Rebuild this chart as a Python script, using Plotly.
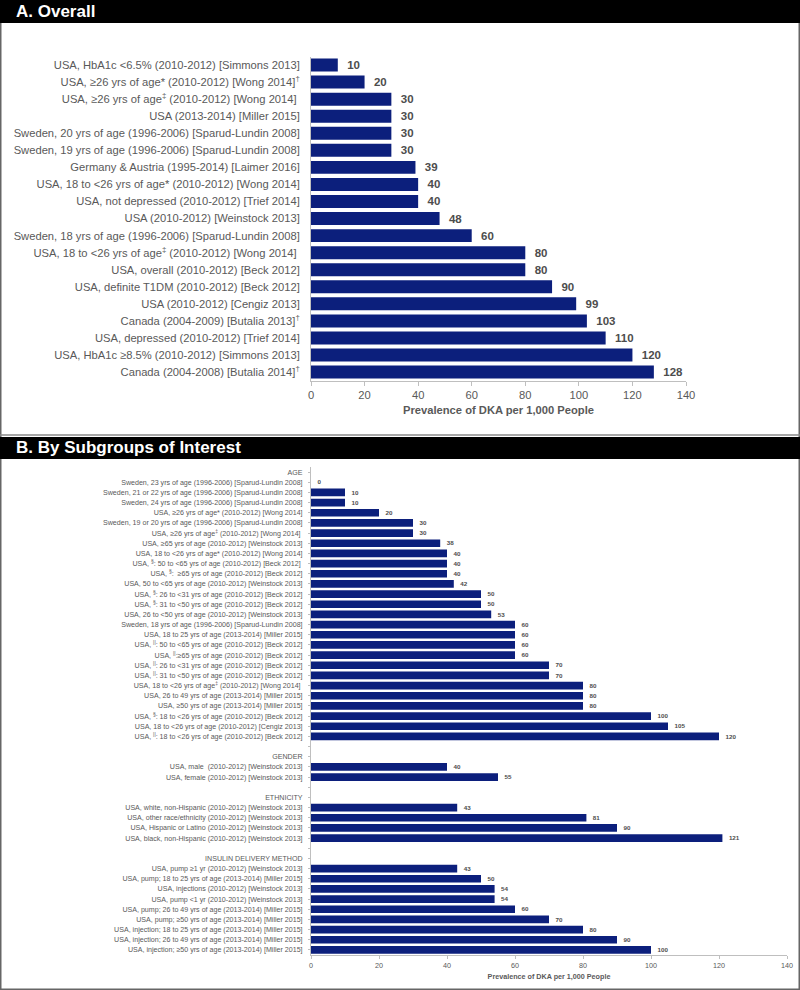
import plotly.graph_objects as go

# ---------------- Panel A data ----------------
a_labels = [
    "USA, HbA1c <6.5% (2010-2012) [Simmons 2013]",
    "USA, ≥26 yrs of age* (2010-2012) [Wong 2014]<sup>†</sup>",
    "USA, ≥26 yrs of age<sup>‡</sup> (2010-2012) [Wong 2014] ",
    "USA (2013-2014) [Miller 2015]",
    "Sweden, 20 yrs of age (1996-2006) [Sparud-Lundin 2008]",
    "Sweden, 19 yrs of age (1996-2006) [Sparud-Lundin 2008]",
    "Germany & Austria (1995-2014) [Laimer 2016]",
    "USA, 18 to <26 yrs of age* (2010-2012) [Wong 2014]",
    "USA, not depressed (2010-2012) [Trief 2014]",
    "USA (2010-2012) [Weinstock 2013]",
    "Sweden, 18 yrs of age (1996-2006) [Sparud-Lundin 2008]",
    "USA, 18 to <26 yrs of age<sup>‡</sup> (2010-2012) [Wong 2014] ",
    "USA, overall (2010-2012) [Beck 2012]",
    "USA, definite T1DM (2010-2012) [Beck 2012]",
    "USA (2010-2012) [Cengiz 2013]",
    "Canada (2004-2009) [Butalia 2013]<sup>†</sup>",
    "USA, depressed (2010-2012) [Trief 2014]",
    "USA, HbA1c ≥8.5% (2010-2012) [Simmons 2013]",
    "Canada (2004-2008) [Butalia 2014]<sup>†</sup>",
]
a_values = [10, 20, 30, 30, 30, 30, 39, 40, 40, 48, 60, 80, 80, 90, 99, 103, 110, 120, 128]

# ---------------- Panel B data ----------------
b_labels = [
    "AGE",
    "Sweden, 23 yrs of age (1996-2006) [Sparud-Lundin 2008]",
    "Sweden, 21 or 22 yrs of age (1996-2006) [Sparud-Lundin 2008]",
    "Sweden, 24 yrs of age (1996-2006) [Sparud-Lundin 2008]",
    "USA, ≥26 yrs of age* (2010-2012) [Wong 2014]",
    "Sweden, 19 or 20 yrs of age (1996-2006) [Sparud-Lundin 2008]",
    "USA, ≥26 yrs of age<sup>‡</sup> (2010-2012) [Wong 2014] ",
    "USA, ≥65 yrs of age (2010-2012) [Weinstock 2013]",
    "USA, 18 to <26 yrs of age* (2010-2012) [Wong 2014]",
    "USA, <sup>§</sup>: 50 to <65 yrs of age (2010-2012) [Beck 2012] ",
    "USA, <sup>§</sup>:  ≥65 yrs of age (2010-2012) [Beck 2012]",
    "USA, 50 to <65 yrs of age (2010-2012) [Weinstock 2013]",
    "USA, <sup>§</sup>: 26 to <31 yrs of age (2010-2012) [Beck 2012]",
    "USA, <sup>§</sup>: 31 to <50 yrs of age (2010-2012) [Beck 2012]",
    "USA, 26 to <50 yrs of age (2010-2012) [Weinstock 2013]",
    "Sweden, 18 yrs of age (1996-2006) [Sparud-Lundin 2008]",
    "USA, 18 to 25 yrs of age (2013-2014) [Miller 2015]",
    "USA, <sup>||</sup>: 50 to <65 yrs of age (2010-2012) [Beck 2012]",
    "USA, <sup>||</sup>:≥65 yrs of age (2010-2012) [Beck 2012]",
    "USA, <sup>||</sup>: 26 to <31 yrs of age (2010-2012) [Beck 2012]",
    "USA, <sup>||</sup>: 31 to <50 yrs of age (2010-2012) [Beck 2012]",
    "USA, 18 to <26 yrs of age<sup>‡</sup> (2010-2012) [Wong 2014] ",
    "USA, 26 to 49 yrs of age (2013-2014) [Miller 2015]",
    "USA, ≥50 yrs of age (2013-2014) [Miller 2015]",
    "USA, <sup>§</sup>: 18 to <26 yrs of age (2010-2012) [Beck 2012]",
    "USA, 18 to <26 yrs of age (2010-2012) [Cengiz 2013]",
    "USA, <sup>||</sup>: 18 to <26 yrs of age (2010-2012) [Beck 2012]",
    "",
    "GENDER",
    "USA, male  (2010-2012) [Weinstock 2013]",
    "USA, female (2010-2012) [Weinstock 2013]",
    "",
    "ETHNICITY",
    "USA, white, non-Hispanic (2010-2012) [Weinstock 2013]",
    "USA, other race/ethnicity (2010-2012) [Weinstock 2013]",
    "USA, Hispanic or Latino (2010-2012) [Weinstock 2013]",
    "USA, black, non-Hispanic (2010-2012) [Weinstock 2013]",
    "",
    "INSULIN DELIVERY METHOD",
    "USA, pump ≥1 yr (2010-2012) [Weinstock 2013]",
    "USA, pump; 18 to 25 yrs of age (2013-2014) [Miller 2015]",
    "USA, injections (2010-2012) [Weinstock 2013]",
    "USA, pump <1 yr (2010-2012) [Weinstock 2013]",
    "USA, pump; 26 to 49 yrs of age (2013-2014) [Miller 2015]",
    "USA, pump; ≥50 yrs of age (2013-2014) [Miller 2015]",
    "USA, injection; 18 to 25 yrs of age (2013-2014) [Miller 2015]",
    "USA, injection; 26 to 49 yrs of age (2013-2014) [Miller 2015]",
    "USA, injection; ≥50 yrs of age (2013-2014) [Miller 2015]",
]
b_values = [
    None, 0, 10, 10, 20, 30, 30, 38, 40, 40, 40, 42, 50, 50, 53, 60, 60, 60, 60,
    70, 70, 80, 80, 80, 100, 105, 120,
    None, None, 40, 55,
    None, None, 43, 81, 90, 121,
    None, None, 43, 50, 54, 54, 60, 70, 80, 90, 100,
]

x_ticks = [0, 20, 40, 60, 80, 100, 120, 140]
x_title = "Prevalence of DKA per 1,000 People"

BAR = "#0c1f7c"
GREY = "#595959"
LINE = "#bfbfbf"
FONT = "Liberation Sans, Arial, sans-serif"
NB = "\u00a0"

fig = go.Figure()

a_pos = list(range(len(a_labels)))
fig.add_trace(go.Bar(
    x=a_values, y=a_pos, orientation="h",
    marker=dict(color=BAR, line=dict(width=0)),
    text=[NB * 2 + str(v) for v in a_values],
    textposition="outside", cliponaxis=False,
    textfont=dict(family=FONT, size=11.5, color="#4d4d4d", weight="bold"),
    xaxis="x", yaxis="y", showlegend=False, hoverinfo="skip",
))

b_pos = list(range(len(b_labels)))
fig.add_trace(go.Bar(
    x=b_values, y=b_pos, orientation="h",
    marker=dict(color=BAR, line=dict(width=0)),
    text=["" if v is None else NB * 2 + str(v) for v in b_values],
    textposition="outside", cliponaxis=False,
    textfont=dict(family=FONT, size=7.3, color="#4d4d4d", weight="bold"),
    xaxis="x2", yaxis="y2", showlegend=False, hoverinfo="skip",
))

H = 990.0
def py(p):
    return 1 - p / H

fig.update_layout(
    width=800, height=990, autosize=False,
    margin=dict(l=0, r=0, t=0, b=0),
    paper_bgcolor="white", plot_bgcolor="white",
    font=dict(family=FONT, color=GREY),
    bargap=0.24,
    xaxis=dict(
        domain=[311 / 800, 686 / 800], anchor="y", automargin=False,
        range=[0, 140], tickvals=x_ticks, showgrid=False, zeroline=False,
        showline=True, linecolor=LINE, linewidth=1,
        ticks="outside", ticklen=4, tickcolor=LINE,
        tickfont=dict(size=11.2, color=GREY),
        title=dict(text="<b>" + x_title + "</b>", font=dict(size=11.2, color=GREY), standoff=6),
    ),
    yaxis=dict(
        domain=[py(380.6), py(56.5)], anchor="x", automargin=False,
        range=[len(a_labels) - 0.5, -0.5],
        tickvals=a_pos, ticktext=a_labels, showgrid=False, zeroline=False,
        showline=True, linecolor=LINE, linewidth=1,
        ticks="", ticklabelstandoff=8,
        tickfont=dict(size=11.2, color=GREY),
    ),
    xaxis2=dict(
        domain=[311 / 800, 787 / 800], anchor="y2", automargin=False,
        range=[0, 140], tickvals=x_ticks, showgrid=False, zeroline=False,
        showline=True, linecolor=LINE, linewidth=1,
        ticks="outside", ticklen=3, tickcolor=LINE,
        tickfont=dict(size=7.2, color=GREY),
        title=dict(text="<b>" + x_title + "</b>", font=dict(size=7.2, color=GREY), standoff=5),
    ),
    yaxis2=dict(
        domain=[py(955), py(467)], anchor="x2", automargin=False,
        range=[len(b_labels) - 0.5, -0.5],
        tickvals=b_pos, ticktext=b_labels, showgrid=False, zeroline=False,
        showline=True, linecolor=LINE, linewidth=1,
        ticks="outside", ticklen=2, tickcolor=LINE,
        ticklabelstandoff=4,
        tickfont=dict(size=7.1, color=GREY),
    ),
    shapes=[
        dict(type="rect", xref="paper", yref="paper", x0=0, x1=1, y0=0, y1=1,
             line=dict(color="#666666", width=3), fillcolor="rgba(0,0,0,0)"),
        dict(type="rect", xref="paper", yref="paper", x0=0, x1=1, y0=py(23), y1=1,
             line=dict(width=0), fillcolor="black"),
        dict(type="line", xref="paper", yref="paper", x0=0, x1=1, y0=py(435), y1=py(435),
             line=dict(color="#888888", width=1.5)),
        dict(type="rect", xref="paper", yref="paper", x0=0, x1=1, y0=py(459), y1=py(437),
             line=dict(width=0), fillcolor="black"),
    ],
    annotations=[
        dict(text="<b>A. Overall</b>", xref="paper", yref="paper",
             x=14 / 800, y=py(11.5), xanchor="left", yanchor="middle", showarrow=False,
             font=dict(size=17, color="white", family=FONT)),
        dict(text="<b>B. By Subgroups of Interest</b>", xref="paper", yref="paper",
             x=14 / 800, y=py(447.5), xanchor="left", yanchor="middle", showarrow=False,
             font=dict(size=17, color="white", family=FONT)),
    ],
)

fig.write_html(
    "out.html",
    config={"responsive": False, "displayModeBar": False},
    post_script="document.body.style.margin='0';document.body.style.overflow='hidden';",
)
